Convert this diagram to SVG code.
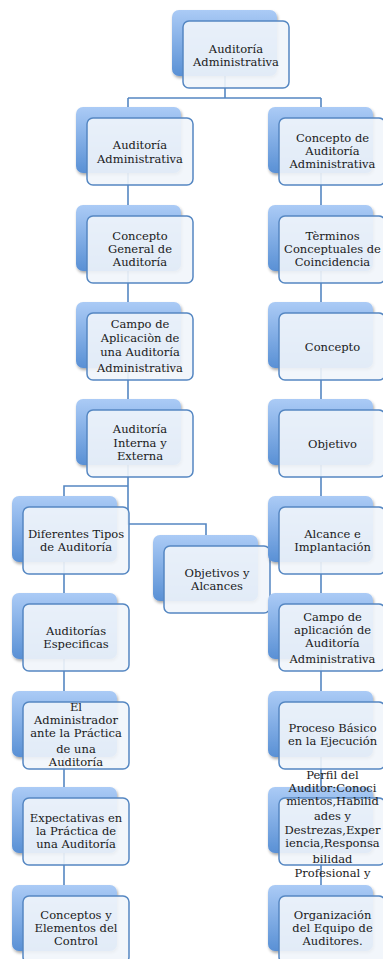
<svg xmlns="http://www.w3.org/2000/svg" width="383" height="959" viewBox="0 0 383 959">
<defs>
<linearGradient id="bg" x1="0" y1="0" x2="0" y2="1">
<stop offset="0" stop-color="#abcbf6"/>
<stop offset="1" stop-color="#5990d5"/>
</linearGradient>
<filter id="sh" x="-10%" y="-10%" width="130%" height="130%">
<feDropShadow dx="1" dy="2" stdDeviation="1.5" flood-color="#000" flood-opacity="0.35"/>
</filter>
</defs>
<style>
.back{fill:url(#bg);filter:url(#sh)}
.front{fill:#f1f5fb;fill-opacity:0.9;stroke:#5587c2;stroke-width:1.5}
.conn{fill:none;stroke:#5587c2;stroke-width:1.6}
text{font-family:"DejaVu Serif","Liberation Serif",serif;font-size:11.5px;fill:#1a1a1a;text-anchor:middle}
</style>
<g id="connectors">
<path class="conn" d="M225,76 V98 M128,98 H321 M128,98 V524 H206 V535 M128,486 H64 V885 M321,98 V885"/>
</g>
<g id="n0"><rect class="back" x="172" y="10" width="105" height="66" rx="7"/><rect class="front" x="183" y="21" width="106" height="67" rx="6"/>
<text><tspan x="236" y="53">Auditoría</tspan><tspan x="236" y="65.5">Administrativa</tspan></text></g>
<g id="n1"><rect class="back" x="76" y="107" width="105" height="66" rx="7"/><rect class="front" x="87" y="118" width="106" height="67" rx="6"/>
<text><tspan x="140" y="149">Auditoría</tspan><tspan x="140" y="162.5">Administrativa</tspan></text></g>
<g id="n2"><rect class="back" x="76" y="205" width="105" height="66" rx="7"/><rect class="front" x="87" y="216" width="106" height="67" rx="6"/>
<text><tspan x="140" y="240">Concepto</tspan><tspan x="140" y="253">General de</tspan><tspan x="140" y="266">Auditoría</tspan></text></g>
<g id="n3"><rect class="back" x="76" y="302" width="105" height="66" rx="7"/><rect class="front" x="87" y="313" width="106" height="67" rx="6"/>
<text><tspan x="140" y="328">Campo de</tspan><tspan x="140" y="342">Aplicaciòn de</tspan><tspan x="140" y="355.5">una Auditoría</tspan><tspan x="140" y="371.5">Administrativa</tspan></text></g>
<g id="n4"><rect class="back" x="76" y="399" width="105" height="66" rx="7"/><rect class="front" x="87" y="410" width="106" height="67" rx="6"/>
<text><tspan x="140" y="433">Auditoría</tspan><tspan x="140" y="447">Interna y</tspan><tspan x="140" y="460">Externa</tspan></text></g>
<g id="n5"><rect class="back" x="12" y="496" width="105" height="66" rx="7"/><rect class="front" x="23" y="507" width="106" height="67" rx="6"/>
<text><tspan x="76" y="537.5">Diferentes Tipos</tspan><tspan x="76" y="550.5">de Auditoría</tspan></text></g>
<g id="n6"><rect class="back" x="153" y="535" width="105" height="66" rx="7"/><rect class="front" x="164" y="546" width="106" height="67" rx="6"/>
<text><tspan x="217" y="576.5">Objetivos y</tspan><tspan x="217" y="590">Alcances</tspan></text></g>
<g id="n7"><rect class="back" x="12" y="593" width="105" height="66" rx="7"/><rect class="front" x="23" y="604" width="106" height="67" rx="6"/>
<text><tspan x="76" y="635">Auditorías</tspan><tspan x="76" y="648">Especificas</tspan></text></g>
<g id="n8"><rect class="back" x="12" y="691" width="105" height="66" rx="7"/><rect class="front" x="23" y="702" width="106" height="67" rx="6"/>
<text><tspan x="76" y="711">El</tspan><tspan x="76" y="724">Administrador</tspan><tspan x="76" y="737">ante la Práctica</tspan><tspan x="76" y="753">de una</tspan><tspan x="76" y="766">Auditoría</tspan></text></g>
<g id="n9"><rect class="back" x="12" y="787" width="105" height="66" rx="7"/><rect class="front" x="23" y="798" width="106" height="67" rx="6"/>
<text><tspan x="76" y="821.5">Expectativas en</tspan><tspan x="76" y="835">la Práctica de</tspan><tspan x="76" y="847.5">una Auditoría</tspan></text></g>
<g id="n10"><rect class="back" x="12" y="885" width="105" height="66" rx="7"/><rect class="front" x="23" y="896" width="106" height="67" rx="6"/>
<text><tspan x="76" y="919">Conceptos y</tspan><tspan x="76" y="931.5">Elementos del</tspan><tspan x="76" y="945">Control</tspan></text></g>
<g id="r1"><rect class="back" x="268" y="107" width="105" height="66" rx="7"/><rect class="front" x="279" y="118" width="106" height="67" rx="6"/>
<text><tspan x="332.5" y="141.5">Concepto de</tspan><tspan x="332.5" y="155">Auditoría</tspan><tspan x="332.5" y="168">Administrativa</tspan></text></g>
<g id="r2"><rect class="back" x="268" y="205" width="105" height="66" rx="7"/><rect class="front" x="279" y="216" width="106" height="67" rx="6"/>
<text><tspan x="332.5" y="240">Tèrminos</tspan><tspan x="332.5" y="253">Conceptuales de</tspan><tspan x="332.5" y="266">Coincidencia</tspan></text></g>
<g id="r3"><rect class="back" x="268" y="302" width="105" height="66" rx="7"/><rect class="front" x="279" y="313" width="106" height="67" rx="6"/>
<text x="332.5" y="351">Concepto</text></g>
<g id="r4"><rect class="back" x="268" y="399" width="105" height="66" rx="7"/><rect class="front" x="279" y="410" width="106" height="67" rx="6"/>
<text x="332.5" y="447.5">Objetivo</text></g>
<g id="r5"><rect class="back" x="268" y="496" width="105" height="66" rx="7"/><rect class="front" x="279" y="507" width="106" height="67" rx="6"/>
<text><tspan x="332.5" y="537.5">Alcance e</tspan><tspan x="332.5" y="550.5">Implantación</tspan></text></g>
<g id="r6"><rect class="back" x="268" y="593" width="105" height="66" rx="7"/><rect class="front" x="279" y="604" width="106" height="67" rx="6"/>
<text><tspan x="332.5" y="621">Campo de</tspan><tspan x="332.5" y="634">aplicación de</tspan><tspan x="332.5" y="647">Auditoría</tspan><tspan x="332.5" y="663">Administrativa</tspan></text></g>
<g id="r7"><rect class="back" x="268" y="691" width="105" height="66" rx="7"/><rect class="front" x="279" y="702" width="106" height="67" rx="6"/>
<text><tspan x="332.5" y="731.5">Proceso Básico</tspan><tspan x="332.5" y="745">en la Ejecución</tspan></text></g>
<g id="r8"><rect class="back" x="268" y="787" width="105" height="66" rx="7"/><rect class="front" x="279" y="798" width="106" height="67" rx="6"/>
<text><tspan x="332.5" y="779">Perfil del</tspan><tspan x="332.5" y="792">Auditor:Conoci</tspan><tspan x="332.5" y="805">mientos,Habilid</tspan><tspan x="332.5" y="820">ades y</tspan><tspan x="332.5" y="834">Destrezas,Exper</tspan><tspan x="332.5" y="847">iencia,Responsa</tspan><tspan x="332.5" y="863">bilidad</tspan><tspan x="332.5" y="877">Profesional y</tspan></text></g>
<g id="r9"><rect class="back" x="268" y="885" width="105" height="66" rx="7"/><rect class="front" x="279" y="896" width="106" height="67" rx="6"/>
<text><tspan x="332.5" y="919">Organización</tspan><tspan x="332.5" y="931.5">del Equipo de</tspan><tspan x="332.5" y="945">Auditores.</tspan></text></g>
</svg>
